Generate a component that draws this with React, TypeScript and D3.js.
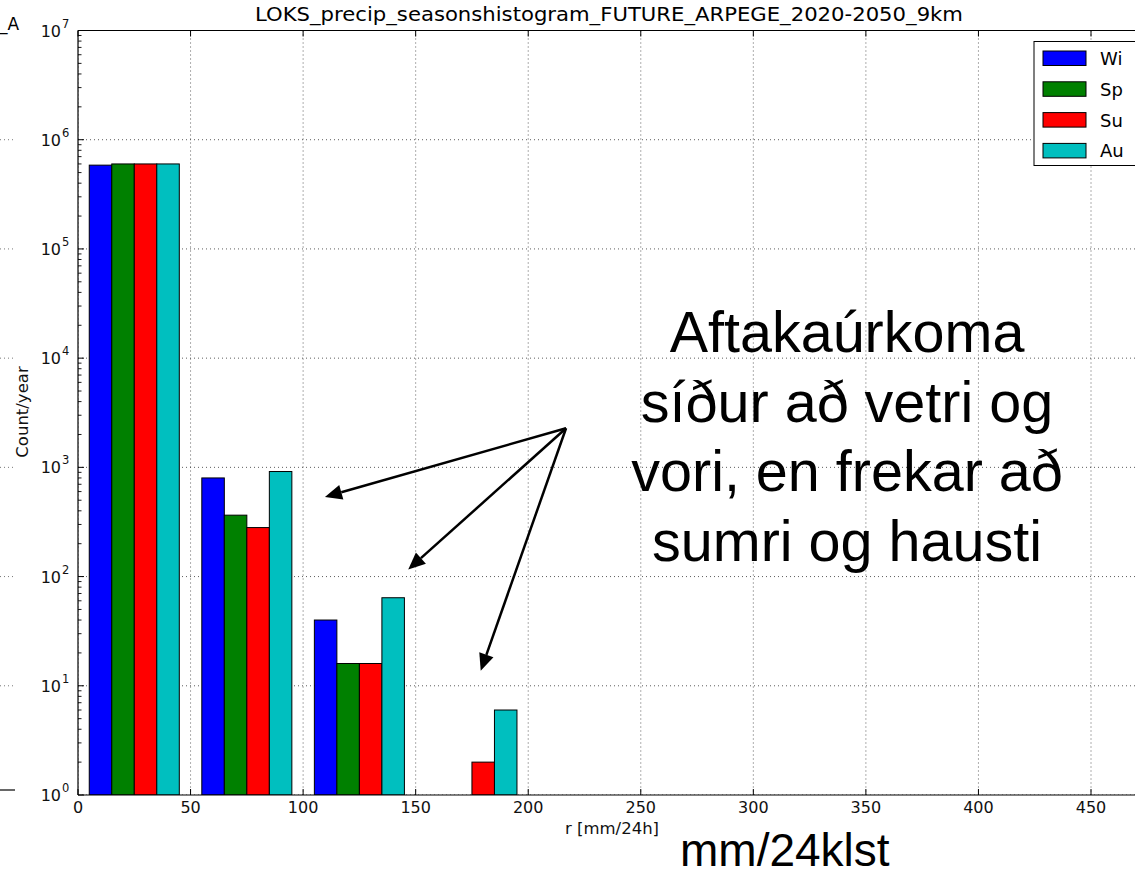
import React from "react";
import * as d3 from "d3";

// ---- data ----
const binStarts = [0, 50, 100, 150];
const seasons = ["Wi", "Sp", "Su", "Au"];
const seasonColors = ["#0000ff", "#008000", "#ff0000", "#00bfbf"];
const wiValues = [585000, 800, 40, 0];
const spValues = [600000, 365, 16, 0];
const suValues = [600000, 281, 16, 2];
const auValues = [600000, 916, 64, 6];
const seriesValues = [wiValues, spValues, suValues, auValues];
const xTicks = [0, 50, 100, 150, 200, 250, 300, 350, 400, 450];
const yTickExps = [0, 1, 2, 3, 4, 5, 6, 7];
const titleText = "LOKS_precip_seasonshistogram_FUTURE_ARPEGE_2020-2050_9km";
const xLabel = "r [mm/24h]";
const yLabel = "Count/year";
const noteLines = ["Aftakaúrkoma", "síður að vetri og", "vori, en frekar að", "sumri og hausti"];
const unitNote = "mm/24klst";
// arrow annotation points in data units [r, count]
const arrowOrigin: [number, number] = [216.8, 2280];
const arrowTips: [number, number][] = [
  [109.7, 536],
  [146.7, 116],
  [178.9, 13.7],
];

const W = 1135;
const H = 875;
const left = 78;
const top = 30.5;
const bottom = 795;
const right = 1150;

export default function App() {
  const x = d3.scaleLinear().domain([0, 475]).range([left, left + 475 * (1013 / 450)]);
  const y = d3.scaleLog().domain([1, 1e7]).range([bottom, top]);
  const mm = "DejaVu Sans, sans-serif";
  const arial = "Liberation Sans, Arial, sans-serif";

  const minor: number[] = [];
  for (let d = 0; d < 7; d++) for (let m = 2; m <= 9; m++) minor.push(m * Math.pow(10, d));

  const arrowPaths = arrowTips.map(([tx, ty]) => {
    const x0 = x(arrowOrigin[0]);
    const y0 = y(arrowOrigin[1]);
    const x1 = x(tx);
    const y1 = y(ty);
    const ang = Math.atan2(y1 - y0, x1 - x0);
    const L = 17;
    const hw = 7.5;
    const bx = x1 - L * Math.cos(ang);
    const by = y1 - L * Math.sin(ang);
    const px = -Math.sin(ang);
    const py = Math.cos(ang);
    return {
      line: `M${x0},${y0}L${bx},${by}`,
      head: `M${x1},${y1}L${bx + px * hw},${by + py * hw}L${bx - px * hw},${by - py * hw}Z`,
    };
  });

  return (
    <svg
      width={W}
      height={H}
      style={{ position: "absolute", left: 0, top: 0, background: "#fff" }}
      fontFamily={mm}
    >
      <rect x={0} y={0} width={W} height={H} fill="#fff" />
      <defs>
        <clipPath id="plotclip">
          <rect x={left} y={top} width={right - left} height={bottom - top} />
        </clipPath>
      </defs>

      {/* remnants of a chart behind, at the left edge */}
      <text x={-1} y={30} fontSize={17} fill="#000">_A</text>
      {yTickExps.slice(1, 7).map((e) => (
        <line key={"rg" + e} x1={0} x2={13} y1={y(Math.pow(10, e))} y2={y(Math.pow(10, e))}
          stroke="#555" strokeWidth={0.8} strokeDasharray="1,3" />
      ))}
      <line x1={0} x2={15} y1={790} y2={790} stroke="#000" strokeWidth={1.2} />

      {/* grid */}
      <g clipPath="url(#plotclip)">
        {xTicks.map((t) => (
          <line key={"gx" + t} x1={x(t)} x2={x(t)} y1={top} y2={bottom}
            stroke="#333" strokeWidth={0.8} strokeDasharray="1,3" />
        ))}
        {yTickExps.map((e) => (
          <line key={"gy" + e} x1={left} x2={right} y1={y(Math.pow(10, e))} y2={y(Math.pow(10, e))}
            stroke="#333" strokeWidth={0.8} strokeDasharray="1,3" />
        ))}
      </g>

      {/* bars */}
      <g clipPath="url(#plotclip)">
        {binStarts.map((b, bi) =>
          seriesValues.map((vals, si) => {
            const v = vals[bi];
            if (!v) return null;
            const x0 = x(b + 5 + si * 10);
            const x1 = x(b + 15 + si * 10);
            return (
              <rect key={`b${bi}-${si}`} x={x0} y={y(v)} width={x1 - x0} height={bottom - y(v)}
                fill={seasonColors[si]} stroke="#000" strokeWidth={1} />
            );
          })
        )}
      </g>

      {/* axes frame */}
      <line x1={left} x2={right} y1={top} y2={top} stroke="#000" strokeWidth={1.2} />
      <line x1={left} x2={right} y1={bottom} y2={bottom} stroke="#000" strokeWidth={1.2} />
      <line x1={left} x2={left} y1={top} y2={bottom} stroke="#000" strokeWidth={1.2} />

      {/* ticks */}
      {xTicks.map((t) => (
        <g key={"tx" + t}>
          <line x1={x(t)} x2={x(t)} y1={bottom} y2={bottom - 6} stroke="#000" />
          <line x1={x(t)} x2={x(t)} y1={top} y2={top + 6} stroke="#000" />
          <text x={x(t)} y={813} fontSize={16} textAnchor="middle" fill="#111">{t}</text>
        </g>
      ))}
      {yTickExps.map((e) => (
        <g key={"ty" + e}>
          <line x1={left} x2={left + 6} y1={y(Math.pow(10, e))} y2={y(Math.pow(10, e))} stroke="#000" />
          <text x={61} y={y(Math.pow(10, e)) + 6} fontSize={16} textAnchor="end" fill="#111">10</text>
          <text x={62} y={y(Math.pow(10, e)) - 3} fontSize={11.5} textAnchor="start" fill="#111">{e}</text>
        </g>
      ))}
      {minor.map((m) => (
        <line key={"mn" + m} x1={left} x2={left + 3.5} y1={y(m)} y2={y(m)} stroke="#000" strokeWidth={0.9} />
      ))}

      {/* labels */}
      <text x={609} y={21} fontSize={19} textAnchor="middle" textLength={708}
        lengthAdjust="spacingAndGlyphs" fill="#000">{titleText}</text>
      <text x={612} y={834} fontSize={16.5} textAnchor="middle" fill="#111">{xLabel}</text>
      <text transform={`translate(28,412) rotate(-90)`} fontSize={16.5} textAnchor="middle" fill="#111">{yLabel}</text>

      {/* legend */}
      <g>
        <rect x={1034} y={41.5} width={130} height={124} fill="#fff" stroke="#000" strokeWidth={1} />
        {seasons.map((s, i) => (
          <g key={"lg" + s}>
            <rect x={1043} y={51 + i * 30.8} width={43} height={14.5} fill={seasonColors[i]} stroke="#000" strokeWidth={1} />
            <text x={1100} y={65 + i * 30.8} fontSize={18} fill="#000">{s}</text>
          </g>
        ))}
      </g>

      {/* annotation */}
      {noteLines.map((l, i) => (
        <text key={"nl" + i} x={847} y={352 + i * 69.5} fontSize={57.5} fontFamily={arial}
          textAnchor="middle" fill="#000">{l}</text>
      ))}
      {arrowPaths.map((a, i) => (
        <g key={"ar" + i}>
          <path d={a.line} stroke="#000" strokeWidth={2.5} fill="none" />
          <path d={a.head} fill="#000" />
        </g>
      ))}
      <text x={680} y={866} fontSize={46} fontFamily={arial} fill="#000">{unitNote}</text>
    </svg>
  );
}
